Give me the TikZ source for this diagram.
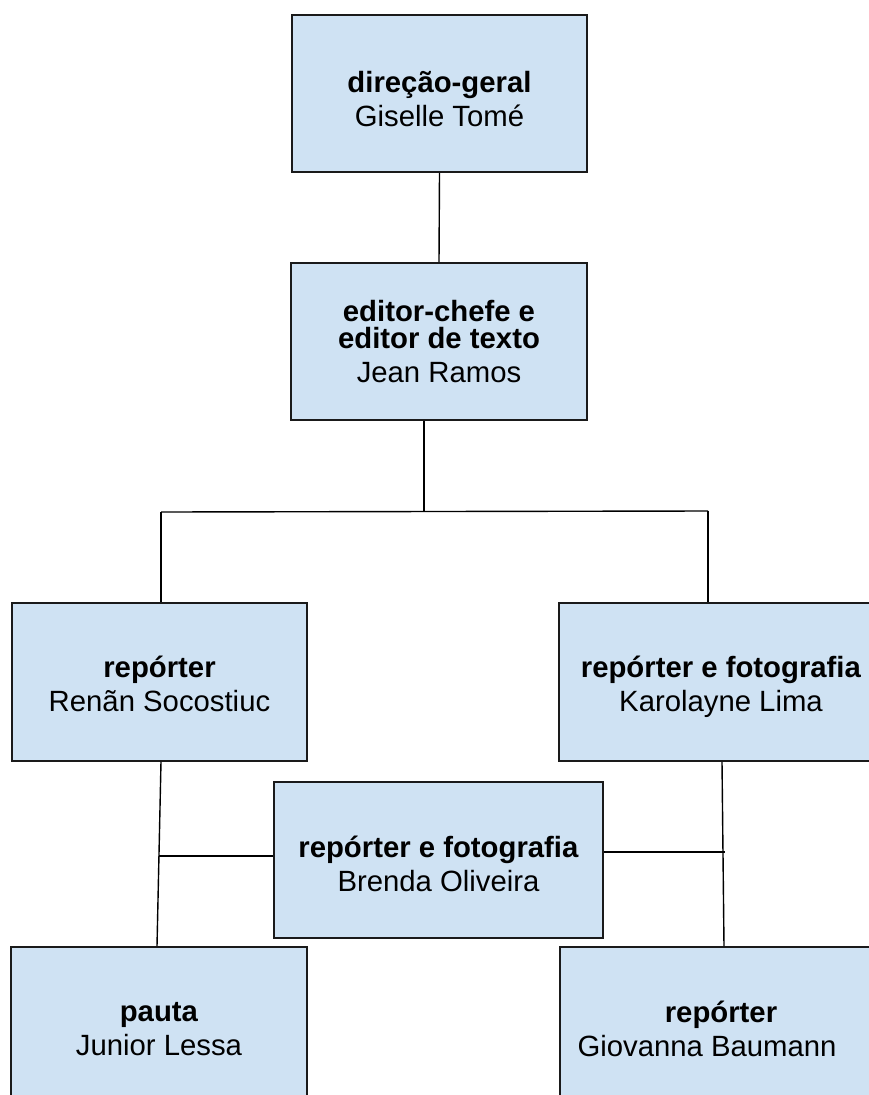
\documentclass[tikz,border=0pt]{standalone}
\usepackage{fontspec}
\setmainfont{Liberation Sans}
\definecolor{boxblue}{HTML}{CFE2F3}
\definecolor{edge}{HTML}{1A1A1A}
\newcommand\lifttop[1]{\rule{0pt}{#1}}
\begin{document}
\begin{tikzpicture}[x=1pt,y=-1pt,
  orgbox/.style={draw=edge, fill=boxblue, line width=1.6pt, rectangle, inner sep=0pt,
    align=center, font=\fontsize{29.3}{34}\selectfont},
  link/.style={draw=black, line width=1.4pt}]
\useasboundingbox (0,0) rectangle (869,1095);
\clip (0,0) rectangle (869,1095);

\node[orgbox, minimum width=295pt, minimum height=157pt] (b1) at (439.5,93.5)
  {\lifttop{31.5pt}\textbf{direção-geral}\\Giselle Tomé};
\node[orgbox, minimum width=296pt, minimum height=157pt] (b2) at (439,341.5)
  {\textbf{editor-chefe e}\\[-7pt]\textbf{editor de texto}\\Jean Ramos};
\node[orgbox, minimum width=295pt, minimum height=158pt] (b3) at (159.5,682)
  {\lifttop{25.5pt}\textbf{repórter}\\Renãn Socostiuc};
\node[orgbox, minimum width=324pt, minimum height=158pt] (b4) at (721,682)
  {\lifttop{31.5pt}\textbf{repórter e fotografia}\\Karolayne Lima};
\node[orgbox, minimum width=329pt, minimum height=156pt] (b5) at (438.5,860)
  {\lifttop{29.5pt}\textbf{repórter e fotografia}\\Brenda Oliveira};
\node[orgbox, minimum width=296pt, minimum height=157pt] (b6) at (159,1025.5)
  {\lifttop{26pt}\textbf{pauta}\\Junior Lessa};
\node[orgbox, minimum width=322pt, minimum height=157pt] (b7) at (721,1025.5)
  {\lifttop{27.5pt}\textbf{repórter}\\Giovanna Baumann\kern28pt};

% junctions
\coordinate (j)  at (424,511);
\coordinate (hl) at (161,512);
\coordinate (hr) at (708,511);
\coordinate (ml) at (161,856);
\coordinate (bl) at (157,947);
\coordinate (mr) at (722,852);
\coordinate (mre) at (725,852);
\coordinate (br) at (724,947);

\draw[link] (b1.south) -- (b2.north);
\draw[link] (b2.south -| j) -- (j);
\draw[link] (hl) -- (hr);
\draw[link] (hl) -- (hl |- b3.north);
\draw[link] (hr) -- (hr |- b4.north);
\draw[link] (b3.south -| ml) -- (bl |- b6.north);
\draw[link] (159,856) -- ([yshift=4pt]b5.west);
\draw[link] (b4.south -| mr) -- (br |- b7.north);
\draw[link] ([yshift=8pt]b5.east) -- (mre);
\end{tikzpicture}
\end{document}
